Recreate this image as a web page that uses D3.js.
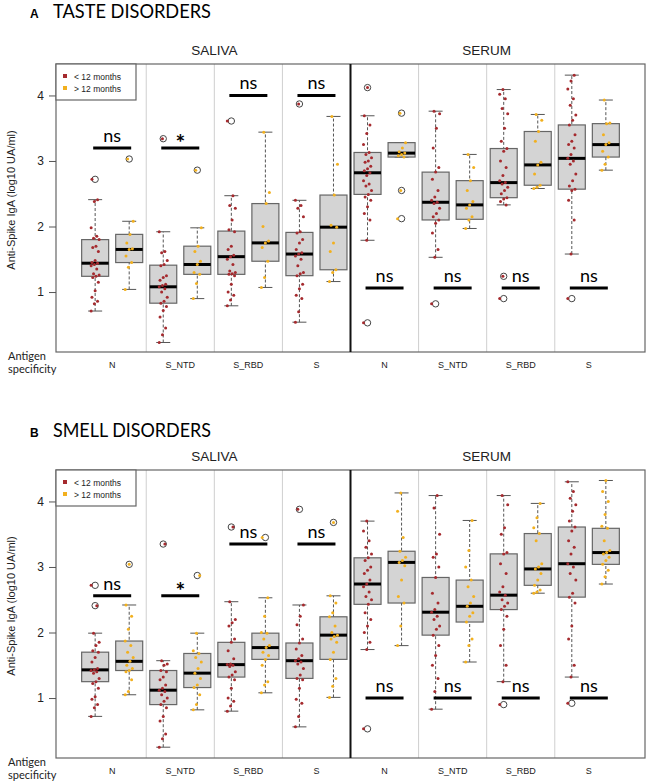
<!DOCTYPE html>
<html>
<head>
<meta charset="utf-8">
<script src="https://cdn.jsdelivr.net/npm/d3@7"></script>
<style>
  body { margin: 0; background: #fff; }
  svg text { font-family: "Liberation Sans", Arial, sans-serif; }
</style>
</head>
<body>
<div id="chart"></div>
<script>
/*
*    two panels of boxplots, saliva / serum IgA
*/

var w = 649;
var h = 783;

var antigens = ["N", "S_NTD", "S_RBD", "S"];
var fluids = ["SALIVA", "SERUM"];
var groups = ["< 12 months", "> 12 months"];
var yTicks = [1, 2, 3, 4];

// box stats, 16 boxes: (antigen x fluid) x (<12, >12)
var tasteLo  = [0.71, 1.04, 0.23, 0.90, 0.79, 1.07, 0.54, 1.16, 1.79, 3.06, 1.53, 1.97, 2.33, 2.58, 1.58, 2.86];
var tasteQ1  = [1.24, 1.45, 0.83, 1.27, 1.27, 1.47, 1.25, 1.34, 2.49, 3.06, 2.10, 2.11, 2.44, 2.63, 2.57, 3.06];
var tasteMed = [1.44, 1.65, 1.08, 1.42, 1.54, 1.75, 1.58, 1.99, 2.82, 3.12, 2.37, 2.33, 2.67, 2.94, 3.04, 3.25];
var tasteQ3  = [1.80, 1.88, 1.41, 1.70, 1.93, 2.35, 1.91, 2.48, 3.13, 3.28, 2.83, 2.70, 3.19, 3.45, 3.55, 3.57];
var tasteHi  = [2.41, 2.08, 1.92, 1.98, 2.47, 3.44, 2.40, 3.68, 3.69, 3.28, 3.76, 3.10, 4.09, 3.71, 4.31, 3.93];
var tasteOut = [[1, 2.72], [2, 3.03], [3, 3.34], [4, 2.86], [5, 3.61], [7, 3.87],
                [9, 4.12], [9, 0.53], [10, 3.73], [10, 2.55], [10, 2.12], [11, 0.82],
                [13, 1.24], [13, 0.90], [15, 0.90]];
var tastePts = [
  [0.71,0.82,0.86,0.92,1.02,1.15,1.22,1.24,1.26,1.28,1.35,1.40,1.42,1.44,1.45,1.48,1.62,1.68,1.70,1.80,1.82,1.85,1.98,2.38,2.41,2.72],
  [1.04,1.38,1.45,1.55,1.65,1.66,1.75,1.88,2.08,3.03],
  [0.23,0.35,0.45,0.62,0.72,0.78,0.83,0.86,0.92,1.00,1.05,1.08,1.10,1.12,1.18,1.22,1.25,1.40,1.42,1.48,1.60,1.62,1.92,3.34],
  [0.90,1.13,1.27,1.30,1.42,1.47,1.62,1.70,1.98,2.86],
  [0.79,0.88,0.95,1.00,1.12,1.25,1.27,1.28,1.30,1.32,1.42,1.50,1.54,1.56,1.65,1.70,1.92,1.95,2.10,2.28,2.32,2.47,3.61],
  [1.07,1.22,1.47,1.68,1.75,1.78,2.00,2.35,2.52,3.44],
  [0.54,0.70,0.90,0.95,1.05,1.12,1.25,1.28,1.30,1.40,1.50,1.55,1.58,1.60,1.65,1.75,1.80,1.90,1.92,2.15,2.28,2.32,2.40,3.87],
  [1.16,1.30,1.34,1.62,1.75,1.99,2.02,2.48,2.95,3.68],
  [0.53,1.79,2.10,2.20,2.30,2.40,2.45,2.49,2.55,2.62,2.65,2.70,2.78,2.82,2.85,2.88,2.92,2.98,3.00,3.05,3.10,3.13,3.25,3.42,3.55,3.69,4.12],
  [2.12,2.55,3.06,3.08,3.10,3.12,3.14,3.20,3.28,3.73],
  [0.82,1.53,1.65,1.90,2.05,2.10,2.15,2.20,2.28,2.35,2.37,2.40,2.45,2.55,2.72,2.83,2.90,3.20,3.50,3.72,3.76],
  [1.97,2.10,2.15,2.28,2.33,2.38,2.55,2.70,2.90,3.10],
  [0.90,1.24,2.33,2.38,2.42,2.44,2.50,2.55,2.60,2.65,2.67,2.70,2.78,2.90,3.00,3.15,3.19,3.30,3.50,3.72,3.80,3.95,4.02,4.09],
  [2.58,2.60,2.63,2.80,2.94,2.98,3.30,3.45,3.62,3.71],
  [0.90,1.58,2.10,2.40,2.55,2.57,2.62,2.70,2.80,2.95,3.00,3.04,3.10,3.20,3.25,3.30,3.40,3.55,3.62,3.70,3.85,3.95,4.10,4.22,4.31],
  [2.86,2.95,3.06,3.15,3.25,3.28,3.40,3.57,3.58,3.93]
];
var tasteSigY = [3.2, 3.2, 4.0, 4.0, 1.06, 1.06, 1.06, 1.06];
var tasteSig  = ["ns", "*", "ns", "ns", "ns", "ns", "ns", "ns"];

var smellLo  = [0.72, 1.05, 0.25, 0.82, 0.80, 1.08, 0.56, 1.01, 1.74, 1.80, 0.83, 1.55, 1.25, 2.60, 1.32, 2.74];
var smellQ1  = [1.25, 1.42, 0.90, 1.16, 1.32, 1.59, 1.30, 1.59, 2.43, 2.45, 1.96, 2.16, 2.35, 2.72, 2.54, 3.04];
var smellMed = [1.43, 1.56, 1.12, 1.38, 1.51, 1.77, 1.57, 1.96, 2.74, 3.07, 2.31, 2.40, 2.57, 2.97, 3.05, 3.22];
var smellQ3  = [1.70, 1.87, 1.42, 1.68, 1.85, 1.99, 1.84, 2.24, 3.14, 3.24, 2.84, 2.80, 3.20, 3.51, 3.61, 3.59];
var smellHi  = [1.99, 2.42, 1.57, 1.99, 2.47, 2.53, 2.42, 2.56, 3.70, 4.13, 4.09, 3.71, 4.09, 3.97, 4.30, 4.32];
var smellOut = [[1, 2.41], [1, 2.72], [2, 3.04], [3, 3.35], [4, 2.87], [5, 3.61], [6, 3.45],
                [7, 3.88], [8, 3.68], [9, 0.53], [13, 0.90], [15, 0.92]];
var smellPts = [
  [0.72,0.85,0.90,0.98,1.02,1.15,1.22,1.25,1.30,1.38,1.40,1.42,1.43,1.45,1.55,1.62,1.70,1.72,1.80,1.85,1.99,2.41,2.72],
  [1.05,1.10,1.28,1.40,1.42,1.45,1.50,1.56,1.62,1.70,1.80,1.87,2.05,2.25,2.42,3.04],
  [0.25,0.38,0.45,0.65,0.72,0.85,0.90,0.95,1.00,1.05,1.10,1.12,1.15,1.20,1.28,1.32,1.40,1.42,1.50,1.52,1.57,3.35],
  [0.82,0.90,1.05,1.16,1.20,1.30,1.38,1.45,1.55,1.62,1.68,1.72,1.99,2.87],
  [0.80,0.88,0.95,1.00,1.15,1.28,1.32,1.35,1.40,1.48,1.50,1.51,1.52,1.60,1.72,1.85,1.90,2.10,2.15,2.20,2.47,3.61],
  [1.08,1.20,1.25,1.50,1.59,1.65,1.70,1.77,1.80,1.90,1.99,2.00,2.25,2.53,3.45],
  [0.56,0.72,0.92,0.98,1.15,1.28,1.30,1.35,1.45,1.52,1.55,1.57,1.60,1.65,1.75,1.84,1.90,2.12,2.25,2.42,3.88],
  [1.01,1.18,1.30,1.59,1.70,1.85,1.90,1.94,1.96,2.00,2.10,2.24,2.30,2.45,2.56,3.68],
  [0.53,1.74,1.85,2.00,2.10,2.20,2.30,2.43,2.50,2.55,2.62,2.70,2.74,2.80,2.90,2.95,3.00,3.10,3.14,3.20,3.30,3.40,3.55,3.70],
  [1.80,2.10,2.45,2.55,2.80,3.02,3.07,3.10,3.15,3.24,3.45,3.85,4.13],
  [0.83,1.10,1.30,1.50,1.65,1.80,1.96,2.05,2.10,2.20,2.25,2.31,2.35,2.45,2.60,2.84,3.00,3.15,3.20,3.50,3.90,4.09],
  [1.55,1.80,1.90,2.16,2.25,2.30,2.40,2.45,2.55,2.70,2.80,3.00,3.25,3.71],
  [0.90,1.25,1.50,1.80,2.05,2.25,2.35,2.40,2.45,2.50,2.57,2.62,2.70,2.90,3.05,3.20,3.22,3.50,3.60,3.95,4.09],
  [2.60,2.62,2.65,2.72,2.80,2.90,2.97,3.00,3.05,3.40,3.51,3.60,3.75,3.97],
  [0.92,1.32,1.50,1.90,2.10,2.45,2.54,2.60,2.80,2.90,3.00,3.05,3.20,3.30,3.40,3.55,3.61,3.70,3.85,3.95,4.05,4.15,4.30],
  [2.74,2.85,2.95,3.04,3.10,3.15,3.20,3.22,3.25,3.40,3.59,3.62,3.80,4.00,4.15,4.32]
];
var smellSigY = [2.56, 2.56, 3.35, 3.35, 1.0, 1.0, 1.0, 1.0];
var smellSig  = ["ns", "*", "ns", "ns", "ns", "ns", "ns", "ns"];

var colors = ["#a52a2e", "#f2b01e"];

var svg = d3.select("#chart")
    .append("svg")
        .attr("width", w)
        .attr("height", h);

var left = 56, right = 645, ph = 288;

var x = d3.scaleLinear()
    .domain([-0.15, 17.15])
    .range([left, right]);

function drawPanel(top, titleY, letter, title, lo, q1, med, q3, hi, outs, pts, sigY, sig) {
    var g = svg.append("g");
    var y = d3.scaleLinear()
        .domain([0.085, 4.48])
        .range([top + ph, top]);

    g.append("text").attr("x", 30).attr("y", titleY)
        .style("font-family", "Liberation Sans").style("font-weight", "bold")
        .style("font-size", "12px").text(letter);
    g.append("text").attr("x", 53).attr("y", titleY)
        .attr("textLength", 158).attr("lengthAdjust", "spacingAndGlyphs")
        .style("font-family", "Lato").style("font-size", "19px").text(title);

    // fluid headings, centred between 2nd and 3rd antigen
    fluids.forEach(function(f, i){
        g.append("text")
            .attr("x", x(4.5 + i * 8)).attr("y", top - 9)
            .attr("text-anchor", "middle")
            .style("font-size", "13.5px").style("fill", "#222")
            .text(f);
    });

    // light separators between antigens
    [2.5, 4.5, 6.5, 10.5, 12.5, 14.5].forEach(function(s){
        g.append("line")
            .attr("x1", x(s)).attr("x2", x(s))
            .attr("y1", top).attr("y2", top + ph)
            .attr("stroke", "#cfcfcf").attr("stroke-width", 1);
    });

    // whiskers
    var idx = d3.range(16);
    g.selectAll(".whisk").data(idx).enter().append("line")
        .attr("x1", function(i){ return x(i + 1); })
        .attr("x2", function(i){ return x(i + 1); })
        .attr("y1", function(i){ return y(lo[i]); })
        .attr("y2", function(i){ return y(hi[i]); })
        .attr("stroke", "#555").attr("stroke-width", 1)
        .attr("stroke-dasharray", "3,2");

    [lo, hi].forEach(function(arr){
        g.selectAll(null).data(idx).enter().append("line")
            .attr("x1", function(i){ return x(i + 1) - 7; })
            .attr("x2", function(i){ return x(i + 1) + 7; })
            .attr("y1", function(i){ return y(arr[i]); })
            .attr("y2", function(i){ return y(arr[i]); })
            .attr("stroke", "#555").attr("stroke-width", 1);
    });

    var bw = 27;
    g.selectAll(".box").data(idx).enter().append("rect")
        .attr("x", function(i){ return x(i + 1) - bw / 2; })
        .attr("y", function(i){ return y(q3[i]); })
        .attr("width", bw)
        .attr("height", function(i){ return y(q1[i]) - y(q3[i]); })
        .attr("fill", "#d4d4d4")
        .attr("stroke", "#666").attr("stroke-width", 1.2);

    g.selectAll(".med").data(idx).enter().append("line")
        .attr("x1", function(i){ return x(i + 1) - bw / 2; })
        .attr("x2", function(i){ return x(i + 1) + bw / 2; })
        .attr("y1", function(i){ return y(med[i]); })
        .attr("y2", function(i){ return y(med[i]); })
        .attr("stroke", "#000").attr("stroke-width", 3);

    // outliers, open circles
    g.selectAll(".out").data(outs).enter().append("circle")
        .attr("cx", function(d){ return x(d[0]); })
        .attr("cy", function(d){ return y(d[1]); })
        .attr("r", 3.2)
        .attr("fill", "none")
        .attr("stroke", "#444").attr("stroke-width", 1);

    // jittered points
    pts.forEach(function(vals, i){
        g.selectAll(null).data(vals).enter().append("circle")
            .attr("cx", function(d, j){ return x(i + 1) + ((j * 37) % 11 - 5) * 0.8; })
            .attr("cy", function(d){ return y(d); })
            .attr("r", 1.5)
            .attr("fill", colors[i % 2]);
    });

    // significance bars
    g.selectAll(".sigbar").data(sigY).enter().append("line")
        .attr("x1", function(d, k){ return x(2 * k + 1.5) - 19; })
        .attr("x2", function(d, k){ return x(2 * k + 1.5) + 19; })
        .attr("y1", function(d){ return y(d); })
        .attr("y2", function(d){ return y(d); })
        .attr("stroke", "#000").attr("stroke-width", 3);

    g.selectAll(".sigtxt").data(sigY).enter().append("text")
        .attr("x", function(d, k){ return x(2 * k + 1.5); })
        .attr("y", function(d, k){ return y(d) + (sig[k] == "*" ? 3 : -6); })
        .attr("text-anchor", "middle")
        .style("font-family", "Lato")
        .style("font-weight", function(d, k){ return sig[k] == "*" ? "bold" : "normal"; })
        .style("font-size", function(d, k){ return sig[k] == "*" ? "23px" : "18px"; })
        .text(function(d, k){ return sig[k]; });

    // frame
    g.append("rect")
        .attr("x", left).attr("y", top)
        .attr("width", right - left).attr("height", ph)
        .attr("fill", "none").attr("stroke", "#666").attr("stroke-width", 1.2);
    g.append("line")
        .attr("x1", x(8.5)).attr("x2", x(8.5))
        .attr("y1", top).attr("y2", top + ph)
        .attr("stroke", "#111").attr("stroke-width", 2);

    // y axis
    var ax = g.append("g")
        .attr("transform", "translate(" + left + ",0)")
        .call(d3.axisLeft(y).tickValues(yTicks).tickSize(7).tickPadding(5).tickFormat(d3.format("d")));
    ax.select(".domain").remove();
    ax.selectAll("line").attr("stroke", "#555");
    ax.selectAll("text").style("font-family", "Liberation Sans").style("font-size", "12px").style("fill", "#222");

    g.append("text")
        .attr("transform", "translate(15," + (top + ph / 2 - 8) + ") rotate(-90)")
        .attr("text-anchor", "middle")
        .style("font-size", "11px").style("fill", "#222")
        .text("Anti-Spike IgA (log10 UA/ml)");

    // legend
    g.append("rect")
        .attr("x", left).attr("y", top)
        .attr("width", 80).attr("height", 36)
        .attr("fill", "#fff").attr("stroke", "#666").attr("stroke-width", 1.2);
    groups.forEach(function(gr, i){
        g.append("rect")
            .attr("x", left + 7).attr("y", top + 10 + i * 12)
            .attr("width", 4).attr("height", 4)
            .attr("fill", colors[i]);
        g.append("text")
            .attr("x", left + 18).attr("y", top + 15.5 + i * 12)
            .style("font-size", "8.5px").style("fill", "#222")
            .text(gr);
    });

    // x labels
    for (var f = 0; f < 2; f++) {
        antigens.forEach(function(a, k){
            g.append("text")
                .attr("x", x(f * 8 + 2 * k + 1.5))
                .attr("y", top + ph + 16)
                .attr("text-anchor", "middle")
                .style("font-size", "9px").style("fill", "#222")
                .text(a);
        });
    }
    g.append("text").attr("x", 8).attr("y", top + ph + 8)
        .style("font-family", "Lato").style("font-size", "11px").style("fill", "#222")
        .text("Antigen");
    g.append("text").attr("x", 8).attr("y", top + ph + 21)
        .style("font-family", "Lato").style("font-size", "11px").style("fill", "#222")
        .text("specificity");
}

drawPanel(64, 18, "A", "TASTE DISORDERS", tasteLo, tasteQ1, tasteMed, tasteQ3, tasteHi, tasteOut, tastePts, tasteSigY, tasteSig);
drawPanel(470, 437, "B", "SMELL DISORDERS", smellLo, smellQ1, smellMed, smellQ3, smellHi, smellOut, smellPts, smellSigY, smellSig);
</script>
</body>
</html>
